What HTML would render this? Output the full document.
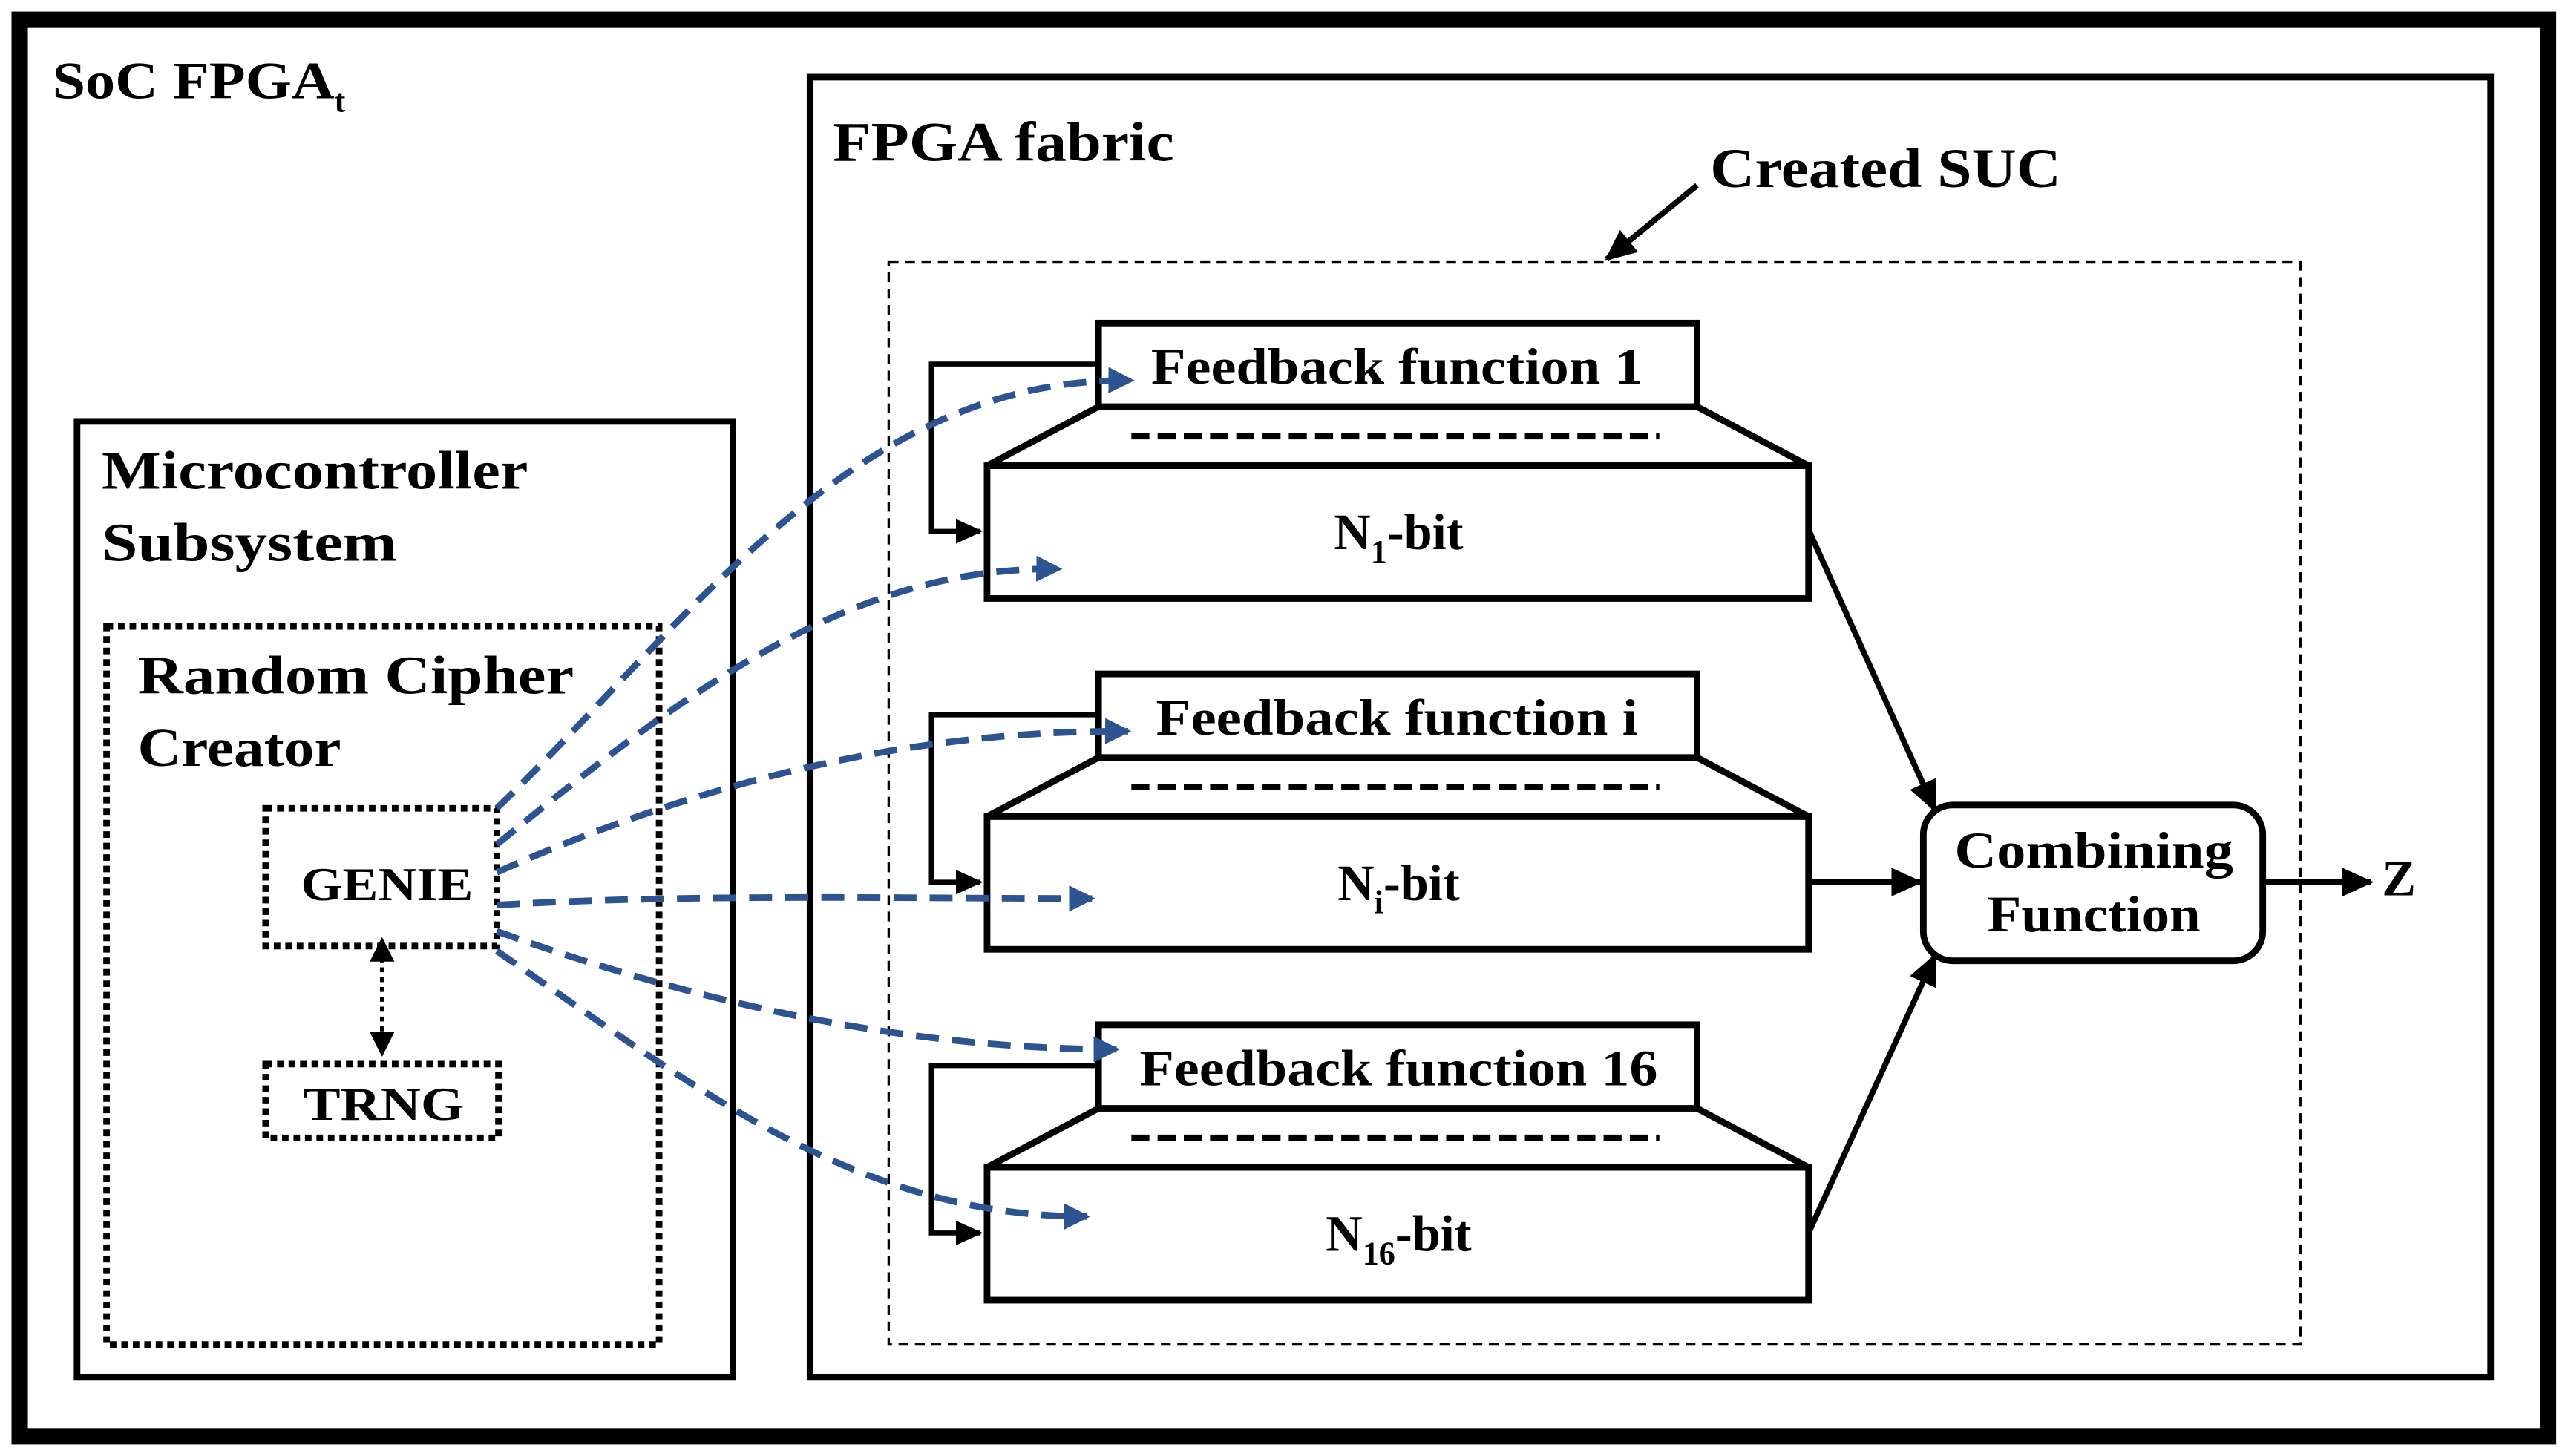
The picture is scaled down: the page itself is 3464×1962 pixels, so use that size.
<!DOCTYPE html>
<html><head><style>html,body{margin:0;padding:0;background:#fff}svg{display:block}</style></head>
<body>
<svg width="3464" height="1962" viewBox="0 0 1568 888" xmlns="http://www.w3.org/2000/svg" font-family="Liberation Serif, serif" font-weight="bold">
<defs>
<marker id="ab" markerWidth="6" markerHeight="6" refX="5" refY="3" orient="auto" markerUnits="strokeWidth"><path d="M0,0.5 L5.5,3 L0,5.5 z" fill="#000"/></marker>
<marker id="abl" markerWidth="4" markerHeight="4" refX="3.5" refY="2" orient="auto" markerUnits="strokeWidth"><path d="M0,0 L4,2 L0,4 z" fill="#2e5391"/></marker>
<marker id="sm" markerWidth="8" markerHeight="8" refX="5" refY="3" orient="auto" markerUnits="strokeWidth"><path d="M0,0 L6,3 L0,6 z" fill="#000"/></marker>
<marker id="sms" markerWidth="8" markerHeight="8" refX="1" refY="3" orient="auto-start-reverse" markerUnits="strokeWidth"><path d="M0,0 L6,3 L0,6 z" fill="#000"/></marker>
</defs>
<rect x="0" y="0" width="1568" height="888" fill="#fff"/>
<rect x="12" y="12" width="1542" height="864" fill="none" stroke="#000" stroke-width="10"/>
<text x="32" y="60" font-size="32"><tspan textLength="172" lengthAdjust="spacingAndGlyphs">SoC FPGA</tspan><tspan font-size="20" dy="8">t</tspan></text>
<rect x="494" y="47" width="1025" height="793" fill="none" stroke="#000" stroke-width="4"/>
<text x="508" y="98" font-size="34" textLength="208" lengthAdjust="spacingAndGlyphs">FPGA fabric</text>
<text x="1043" y="114" font-size="34" textLength="214" lengthAdjust="spacingAndGlyphs">Created SUC</text>
<line x1="1035" y1="113" x2="980" y2="158" stroke="#000" stroke-width="3.5" marker-end="url(#ab)"/>
<rect x="542" y="160" width="861" height="660" fill="none" stroke="#000" stroke-width="1.5" stroke-dasharray="6,4"/>
<rect x="47" y="257" width="400" height="583" fill="none" stroke="#000" stroke-width="4"/>
<text x="62" y="298" font-size="33" textLength="260" lengthAdjust="spacingAndGlyphs">Microcontroller</text>
<text x="62" y="342" font-size="33" textLength="180" lengthAdjust="spacingAndGlyphs">Subsystem</text>
<rect x="65" y="382" width="337" height="438" fill="none" stroke="#000" stroke-width="4" stroke-dasharray="4,3"/>
<text x="84" y="423" font-size="33" textLength="266" lengthAdjust="spacingAndGlyphs">Random Cipher</text>
<text x="84" y="467" font-size="33" textLength="124" lengthAdjust="spacingAndGlyphs">Creator</text>
<rect x="162" y="493" width="141" height="84" fill="none" stroke="#000" stroke-width="4" stroke-dasharray="4,3"/>
<text x="236" y="549" font-size="29" text-anchor="middle" textLength="105" lengthAdjust="spacingAndGlyphs">GENIE</text>
<rect x="162" y="649" width="142" height="45" fill="none" stroke="#000" stroke-width="4" stroke-dasharray="4,3"/>
<text x="234" y="683" font-size="29" text-anchor="middle" textLength="98" lengthAdjust="spacingAndGlyphs">TRNG</text>
<line x1="233" y1="584" x2="233" y2="642" stroke="#000" stroke-width="2.5" stroke-dasharray="3,3" marker-start="url(#sms)" marker-end="url(#sm)"/>
<g fill="none" stroke="#000" stroke-width="4" stroke-linejoin="miter">
<g id="blk">
<rect x="670" y="197" width="365" height="51" fill="#fff"/>
<path d="M670,248 L602,284 L1103,284 L1035,248"/>
<rect x="602" y="284" width="501" height="81"/>
<line x1="690" y1="266" x2="1012" y2="266" stroke-dasharray="11,5"/>
<path d="M670,222 L568,222 L568,324 L598,324" marker-end="url(#ab)" stroke-width="3"/>
</g>
<use href="#blk" y="214"/>
<use href="#blk" y="428"/>
<rect x="1173" y="491" width="207" height="95" rx="18"/>
<line x1="1103" y1="323" x2="1180" y2="494" stroke-width="3.5" marker-end="url(#ab)"/>
<line x1="1103" y1="538" x2="1171" y2="538" stroke-width="3.5" marker-end="url(#ab)"/>
<line x1="1103" y1="752" x2="1180" y2="583" stroke-width="3.5" marker-end="url(#ab)"/>
<line x1="1380" y1="538" x2="1446" y2="538" stroke-width="3.5" marker-end="url(#ab)"/>
</g>
<g font-size="31" text-anchor="middle">
<text x="852" y="234" textLength="300" lengthAdjust="spacingAndGlyphs">Feedback function 1</text>
<text x="852" y="448" textLength="294" lengthAdjust="spacingAndGlyphs">Feedback function i</text>
<text x="853" y="662" textLength="316" lengthAdjust="spacingAndGlyphs">Feedback function 16</text>
<text x="853" y="335">N<tspan font-size="20" dy="8">1</tspan><tspan dy="-8">-bit</tspan></text>
<text x="853" y="549">N<tspan font-size="20" dy="8">i</tspan><tspan dy="-8">-bit</tspan></text>
<text x="853" y="763">N<tspan font-size="20" dy="8">16</tspan><tspan dy="-8">-bit</tspan></text>
<text x="1277" y="529" textLength="170" lengthAdjust="spacingAndGlyphs">Combining</text>
<text x="1277" y="568" textLength="130" lengthAdjust="spacingAndGlyphs">Function</text>
<text x="1463" y="546">Z</text>
</g>
<g fill="none" stroke="#2e5391" stroke-width="4" stroke-dasharray="14,8" marker-end="url(#abl)">
<path d="M303,493 C420,380 520,230 690,232"/>
<path d="M303,515 C420,420 520,345 646,347"/>
<path d="M303,532 C420,480 550,445 688,446"/>
<path d="M303,552 C420,545 550,548 666,548"/>
<path d="M303,568 C420,610 550,640 681,640"/>
<path d="M303,580 C420,660 520,742 663,742"/>
</g>
</svg>
</body></html>
